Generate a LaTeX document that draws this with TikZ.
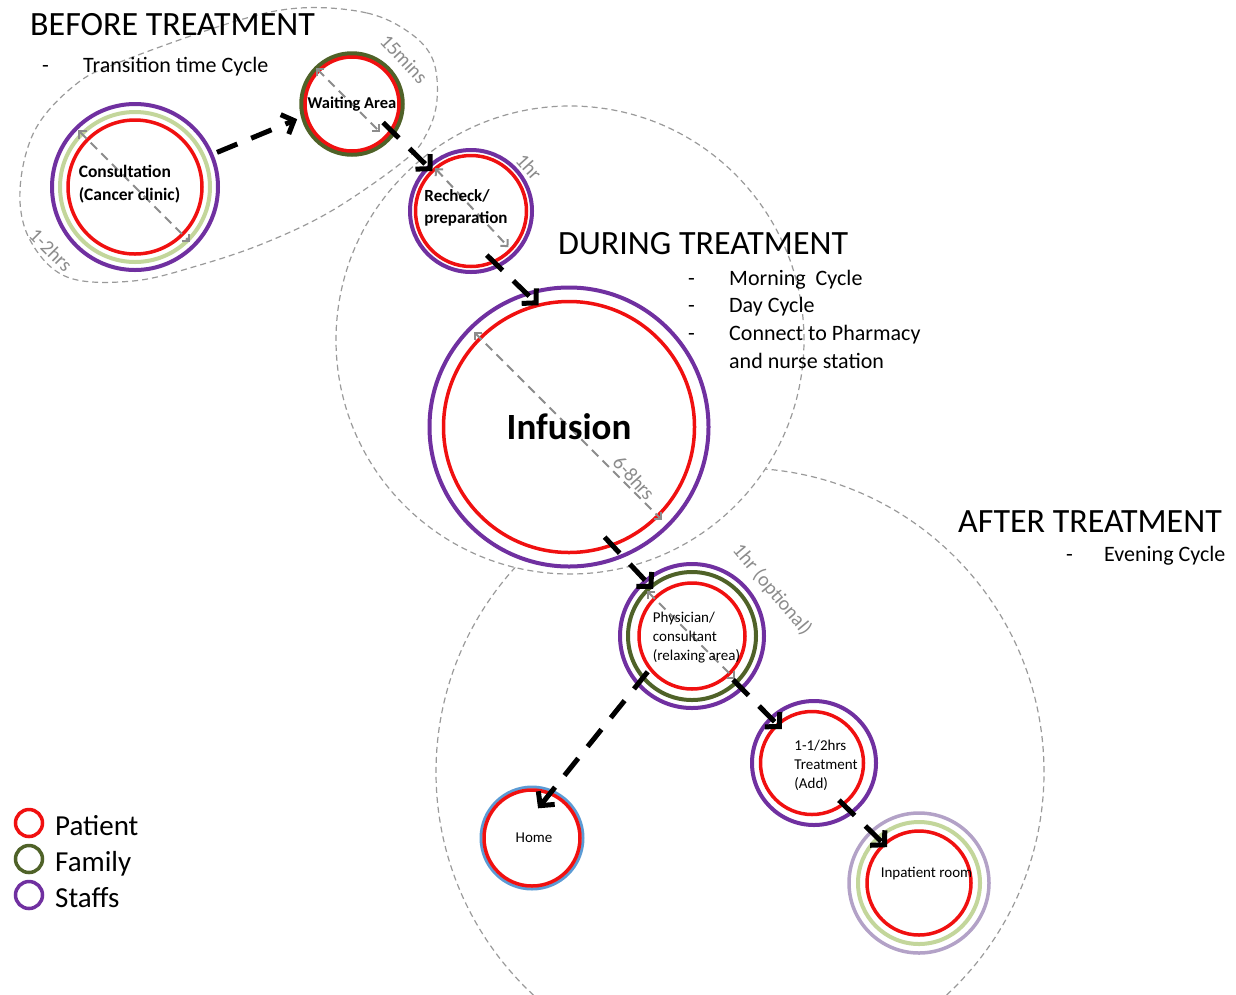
\documentclass[tikz,border=0pt]{standalone}
\usepackage{fontspec}
\setmainfont{Carlito}
\usetikzlibrary{arrows.meta,calc,shapes.geometric}
\definecolor{pred}{HTML}{F01010}
\definecolor{ppurple}{HTML}{7030A0}
\definecolor{pdgreen}{HTML}{4F6228}
\definecolor{plgreen}{HTML}{C3D69B}
\definecolor{plpurple}{HTML}{B3A2C7}
\definecolor{pblue}{HTML}{5B9BD5}
\definecolor{dimgray}{HTML}{8C8C8C}
\definecolor{regiongray}{HTML}{9A9A9A}
\begin{document}
\begin{tikzpicture}[x=1pt,y=-1pt,
  region/.style={draw=regiongray, line width=1.2pt, dash pattern=on 6pt off 4pt, inner sep=0pt, outer sep=0pt},
  place/.style={circle, draw=pred, line width=3.5pt, inner sep=0pt, outer sep=0pt, minimum size=#1},
  ring/.style={draw=#1, line width=4pt},
  ptext/.style={inner sep=0pt, text=black},
  conn/.style={draw=black, line width=5pt, dash pattern=on 22pt off 15pt, -{Straight Barb[length=10pt,width=21pt]}},
  dimarrow/.style={draw=dimgray, line width=2pt, dash pattern=on 9pt off 6pt, {Straight Barb[length=5pt,width=10pt]}-{Straight Barb[length=5pt,width=10pt]}},
  dimlabel/.style={inner sep=0pt, text=dimgray, font=\fontsize{20}{22}\selectfont},
  heading/.style={inner sep=0pt, anchor=base west, font=\fontsize{34}{40}\selectfont},
  bullet/.style={inner sep=0pt, anchor=base west, font=\fontsize{22}{26}\selectfont},
  legendring/.style={circle, draw=#1, line width=3.5pt, inner sep=0pt, minimum size=27pt},
  legendtext/.style={inner sep=0pt, anchor=base west, font=\fontsize{29}{32}\selectfont}
]
\path[use as bounding box] (0,0) rectangle (1236,994);
\clip (0,0) rectangle (1236,994);

% regions
\node[region, circle, minimum size=608pt] (after) at (740,772) {};
\node[region, circle, fill=white, minimum size=468pt] (during) at (570,340) {};
\draw[region] plot[smooth cycle, tension=0.6] coordinates {
  (300,8) (367,13) (410,33) (433,60) (437,100) (427,133) (405,160)
  (333,210) (267,242) (200,265) (133,281) (67,277) (30,240) (20,190)
  (35,130) (75,85) (120,62) (233,22)};

% headings
\node[heading] (h-before) at (30,35) {BEFORE TREATMENT};
\node[bullet] (b-before-d) at (42,72) {-};
\node[bullet] (b-before) at (83,72) {Transition time Cycle};
\node[heading] (h-during) at (558,254) {DURING TREATMENT};
\node[bullet] (b-d1d) at (688,285) {-};
\node[bullet] (b-d1) at (729,285) {Morning\ \ Cycle};
\node[bullet] (b-d2d) at (688,312) {-};
\node[bullet] (b-d2) at (729,312) {Day Cycle};
\node[bullet] (b-d3d) at (688,340) {-};
\node[bullet] (b-d3) at (729,340) {Connect to Pharmacy};
\node[bullet] (b-d4) at (729,368) {and nurse station};
\node[heading] (h-after) at (958,532) {AFTER TREATMENT};
\node[bullet] (b-a1d) at (1066,561) {-};
\node[bullet] (b-a1) at (1104,561) {Evening Cycle};

% Consultation
\draw[ring=ppurple, fill=white] (135,187) circle[radius=83];
\draw[ring=plgreen] (135,187) circle[radius=75];
\node[place=134pt] (consult) at (135,187) {};
% Waiting
\draw[ring=pdgreen, line width=4.5pt, fill=white] (352,104) circle[radius=50.5];
\node[place=94pt] (waiting) at (352,104) {};
% Recheck
\draw[ring=ppurple, fill=white] (471,211) circle[radius=61];
\node[place=111pt] (recheck) at (471,211) {};
% Infusion
\draw[ring=ppurple, fill=white] (569,427) circle[radius=139.5];
\node[place=251pt] (infusion) at (569,427) {};
% Physician
\draw[ring=ppurple, fill=white] (692,636) circle[radius=72];
\draw[ring=pdgreen] (692,636) circle[radius=64];
\node[place=106pt] (physician) at (692,636) {};
% Home
\draw[ring=pblue, line width=3pt, fill=white] (532,838) circle[radius=51];
\node[place=96pt] (home) at (532,838) {};
% Treatment
\draw[ring=ppurple, fill=white] (814,763) circle[radius=62];
\node[place=103pt] (treatment) at (812,763) {};
% Inpatient
\draw[ring=plpurple, line width=3.5pt, fill=white] (919,883) circle[radius=70];
\draw[ring=plgreen] (919,883) circle[radius=61];
\node[place=104pt] (inpatient) at (919,883) {};

% dimension arrows
\draw[dimarrow] ($(consult.center)+(135:80pt)$) -- ($(consult.center)+(-45:78pt)$);
\draw[dimarrow] ($(waiting.center)+(135:51pt)$) -- ($(waiting.center)+(-45:40pt)$);
\draw[dimarrow] ($(recheck.center)+(130:56pt)$) -- ($(recheck.center)+(-44:52pt)$);
\draw[dimarrow] ($(infusion.center)+(135:135pt)$) -- ($(infusion.center)+(-45:131pt)$);
\draw[dimarrow] ($(physician.center)+(135:64pt)$) -- ($(physician.center)+(-45:61pt)$);

\node[dimlabel, rotate=-45] (l-consult) at (51,250) {1-2hrs};
\node[dimlabel, rotate=-47] (l-waiting) at (404,59) {15mins};
\node[dimlabel, rotate=-48] (l-recheck) at (529,167) {1hr};
\node[dimlabel, rotate=-48] (l-infusion) at (634,478) {6-8hrs};
\node[dimlabel, rotate=-50] (l-physician) at (772,590) {1hr (optional)};

% texts in places
\node[ptext, align=left, font=\bfseries\fontsize{17.5}{23}\selectfont] (t-consult) at ([xshift=-5.5pt,yshift=3pt]consult.center) {Consultation\\(Cancer clinic)};
\node[ptext, font=\bfseries\fontsize{16.5}{20}\selectfont] (t-waiting) at (waiting.center) {Waiting Area};
\node[ptext, align=left, font=\bfseries\fontsize{17}{22}\selectfont] (t-recheck) at ([xshift=-5pt,yshift=3pt]recheck.center) {Recheck/\\preparation};
\node[ptext, font=\bfseries\fontsize{37}{42}\selectfont] (t-infusion) at (infusion.center) {Infusion};
\node[ptext, align=left, font=\fontsize{15}{19}\selectfont] (t-physician) at ([xshift=4.5pt,yshift=-2pt]physician.center) {Physician/\\consultant\\(relaxing area)};
\node[ptext, font=\fontsize{15}{19}\selectfont] (t-home) at ([xshift=2pt]home.center) {Home};
\node[ptext, align=left, font=\fontsize{15}{19}\selectfont] (t-treatment) at ([xshift=14pt,yshift=-2pt]treatment.center) {1-1/2hrs\\Treatment\\(Add)};
\node[ptext, font=\fontsize{15}{19}\selectfont] (t-inpatient) at ([xshift=7.5pt,yshift=9pt]inpatient.center) {Inpatient room};

% connectors
\draw[conn, shorten <=22pt, shorten >=10pt] (consult.23) -- (waiting.194);
\draw[conn, shorten <=-11pt] (waiting.-34) -- (recheck.134);
\draw[conn, shorten <=-9.5pt] (recheck.-66) -- (infusion.104.5);
\draw[conn, shorten <=-10.7pt, shorten >=8pt] (infusion.-70) -- (physician.129);
\draw[conn, shorten <=7pt, shorten >=-6pt] (physician.-47) -- (treatment.132);
\draw[conn, shorten <=-5.7pt, shorten >=-4pt] (treatment.-53) -- (inpatient.132);
\draw[conn, shorten <=4pt, shorten >=-19pt] (physician.218.5) -- (home.68);

% legend
\node[legendring=pred] (lg-patient) at (29,823) {};
\node[legendring=pdgreen] (lg-family) at (29,859) {};
\node[legendring=ppurple] (lg-staffs) at (29,895) {};
\node[legendtext] (lt-patient) at (55,835) {Patient};
\node[legendtext] (lt-family) at (55,871) {Family};
\node[legendtext] (lt-staffs) at (55,907) {Staffs};
\end{tikzpicture}
\end{document}
